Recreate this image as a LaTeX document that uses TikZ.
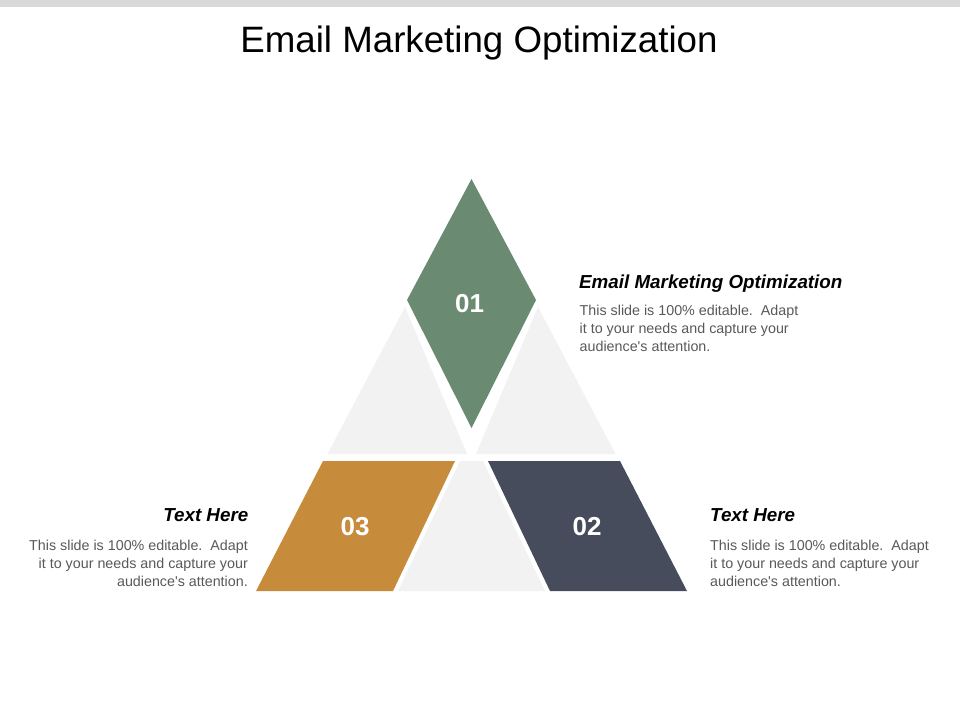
\documentclass[tikz,border=0pt]{standalone}
\usepackage{fontspec}
\setmainfont{Liberation Sans}[Ligatures=TeXOff]
\definecolor{barGray}{HTML}{D9D9D9}
\definecolor{paleGray}{HTML}{F2F2F2}
\definecolor{sageGreen}{HTML}{6A8B72}
\definecolor{ochre}{HTML}{C78B3C}
\definecolor{slateNavy}{HTML}{474C5C}
\definecolor{bodyGray}{HTML}{595959}
\tikzset{
  titletext/.style={inner sep=0pt, font=\fontsize{36.7}{40}\selectfont, text=black},
  headtext/.style={inner sep=0pt, font=\fontsize{18.8}{22}\selectfont\bfseries\itshape, text=black},
  bodytext/.style={inner sep=0pt, font=\fontsize{14.3}{18}\selectfont, text=bodyGray},
  numtext/.style={inner sep=0pt, font=\fontsize{26}{30}\selectfont\bfseries, text=white},
}
\begin{document}
\begin{tikzpicture}[x=1pt,y=-1pt]
\useasboundingbox (0,0) rectangle (960,720);
\fill[white] (0,0) rectangle (960,720);
% top bar
\fill[barGray] (0,0) rectangle (960,6.5);
% title
\node[titletext, anchor=base] (title) at (479,52) {Email Marketing Optimization};

% pyramid pieces
\fill[paleGray] (405,307) -- (327.5,454) -- (467,454) -- cycle;
\fill[paleGray] (538,307) -- (615.5,454) -- (476,454) -- cycle;
\fill[paleGray] (398,591) -- (545,591) -- (483,461) -- (460,461) -- cycle;
\fill[sageGreen] (471.5,179) -- (536,300) -- (471.5,428) -- (407,300) -- cycle;
\fill[ochre] (256,591) -- (393,591) -- (455,461) -- (323,461) -- cycle;
\fill[slateNavy] (550,591) -- (687,591) -- (620,461) -- (488,461) -- cycle;

% numbers
\node[numtext] (n01) at (469.5,303.5) {01};
\node[numtext] (n02) at (587,526.3) {02};
\node[numtext] (n03) at (355,526.3) {03};

% upper right block
\node[headtext, anchor=base west] (h1) at (579,288) {Email Marketing Optimization};
\node[bodytext, anchor=base west] (b1a) at (579.5,315) {This slide is 100\% editable.\ \ Adapt};
\node[bodytext, anchor=base west] (b1b) at (579.5,333) {it to your needs and capture your};
\node[bodytext, anchor=base west] (b1c) at (579.5,351) {audience's attention.};

% lower right block
\node[headtext, anchor=base west] (h2) at (710,521) {Text Here};
\node[bodytext, anchor=base west] (b2a) at (710,550) {This slide is 100\% editable.\ \ Adapt};
\node[bodytext, anchor=base west] (b2b) at (710,568) {it to your needs and capture your};
\node[bodytext, anchor=base west] (b2c) at (710,586) {audience's attention.};

% lower left block
\node[headtext, anchor=base east] (h3) at (248.5,521) {Text Here};
\node[bodytext, anchor=base east] (b3a) at (248,550) {This slide is 100\% editable.\ \ Adapt};
\node[bodytext, anchor=base east] (b3b) at (248,568) {it to your needs and capture your};
\node[bodytext, anchor=base east] (b3c) at (248,586) {audience's attention.};
\end{tikzpicture}
\end{document}
